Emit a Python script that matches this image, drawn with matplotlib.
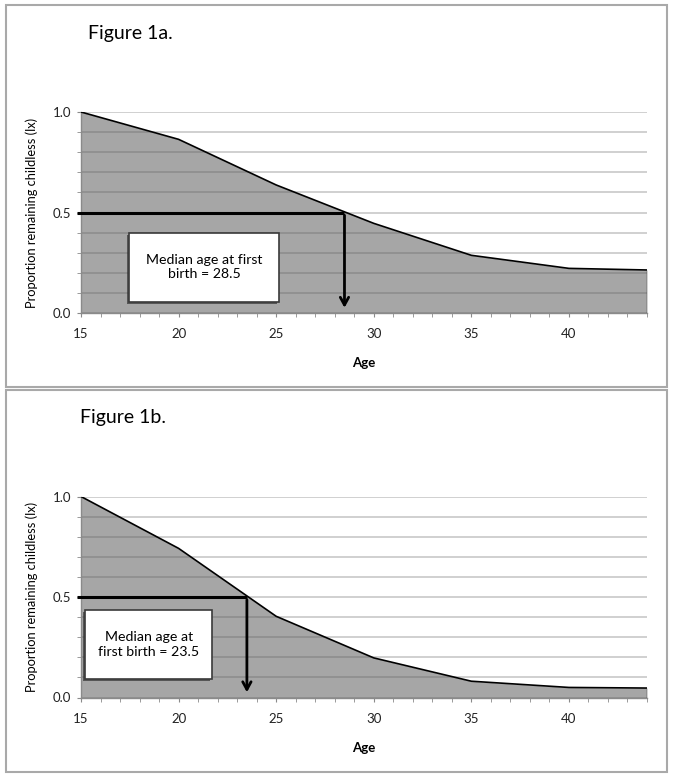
import numpy as np
import matplotlib.pyplot as plt
from matplotlib.patches import Rectangle
import matplotlib.patheffects as pe

plt.rcParams['font.family'] = ['Lato', 'DejaVu Sans']

# data
ages = [15, 20, 25, 30, 35, 40, 44]
lx_1a = [1.0, 0.864, 0.637, 0.446, 0.287, 0.222, 0.214]
lx_1b = [1.0, 0.742, 0.404, 0.197, 0.081, 0.050, 0.047]
median_1a = 28.5
median_1b = 23.5
titles = ["Figure 1a.", "Figure 1b."]
notes = ["Median age at first\nbirth = 28.5", "Median age at\nfirst birth = 23.5"]

W, H = 674, 777
fig = plt.figure(figsize=(W / 100, H / 100), dpi=100)


def fx(px):
    return px / W


def fy(py):
    return 1 - py / H


def panel(top_px, lx, median, title, note, title_x, title_y, box, frame):
    # outer frame
    fx0, fy0, fx1, fy1 = frame
    fig.patches.append(Rectangle((fx(fx0), fy(fy1)), fx(fx1 - fx0), (fy1 - fy0) / H,
                                 transform=fig.transFigure, fill=False,
                                 edgecolor='#a9a9a9', lw=1.5))
    fig.text(fx(title_x), fy(title_y), title, fontsize=14, va='center', ha='left')

    ax = fig.add_axes([fx(81), fy(top_px + 201), fx(566), 201 / H])
    ax.set_xlim(15, 44)
    ax.set_ylim(0, 1.0)
    ax.set_yticks(np.arange(0, 1.01, 0.1), minor=True)
    ax.set_yticks([0, 0.5, 1.0])
    ax.set_yticklabels(['0.0', '0.5', '1.0'])
    ax.set_xticks(np.arange(15, 45, 1), minor=True)
    ax.set_xticks([15, 20, 25, 30, 35, 40])
    ax.grid(axis='y', which='both', color='#c4c4c4', lw=1.1, zorder=0)
    ax.set_axisbelow(True)
    ax.tick_params(which='both', direction='out', length=3, color='#8a8a8a',
                   labelsize=9.5, labelcolor='#222222')
    ax.tick_params(axis='x', pad=8)
    ax.tick_params(axis='y', pad=4)
    for s in ['top', 'right']:
        ax.spines[s].set_visible(False)
    for s in ['left', 'bottom']:
        ax.spines[s].set_color('#8a8a8a')
        ax.spines[s].set_linewidth(1.0)

    ax.fill_between(ages, lx, 0, color='#606060', alpha=0.56, lw=0, zorder=1)
    ax.plot(ages, lx, color='black', lw=1.2, zorder=3)
    ax.plot([ages[-1], ages[-1]], [0, lx[-1]], color='#333333', lw=1.0, zorder=3)

    # median annotation
    ax.plot([14.8, median], [0.5, 0.5], color='black', lw=2.2, zorder=4,
            clip_on=False, solid_capstyle='butt')
    ax.annotate('', xy=(median, 0.012), xytext=(median, 0.5),
                arrowprops=dict(arrowstyle='->,head_length=0.55,head_width=0.3',
                                color='black', lw=2.0), zorder=4)

    bx0, bx1, by0, by1 = box
    rect = Rectangle((bx0, by0), bx1 - bx0, by1 - by0, facecolor='white',
                     edgecolor='#3a3a3a', lw=1.2, zorder=5,
                     path_effects=[pe.SimplePatchShadow(offset=(-1.5, -1.5), shadow_rgbFace='#222222', alpha=0.6),
                                   pe.Normal()])
    ax.add_patch(rect)
    ax.text((bx0 + bx1) / 2, (by0 + by1) / 2, note, ha='center', va='center',
            fontsize=10.2, linespacing=1.25, zorder=6)

    ax.text(0.5, -50 / 201, 'Age', transform=ax.transAxes, ha='center', va='center',
            fontsize=9.5, fontweight='bold')
    ax.text(-49 / 566, 0.5, 'Proportion remaining childless (lx)', transform=ax.transAxes,
            rotation=90, ha='center', va='center', fontsize=9.3)
    return ax


panel(112, lx_1a, median_1a, titles[0], notes[0], 88, 33,
      (17.47, 25.14, 0.056, 0.40), (6, 5, 667, 387))
panel(496.5, lx_1b, median_1b, titles[1], notes[1], 80, 417,
      (15.2, 21.73, 0.091, 0.434), (6, 390, 667, 772))

fig.savefig('out.png', dpi=100)
